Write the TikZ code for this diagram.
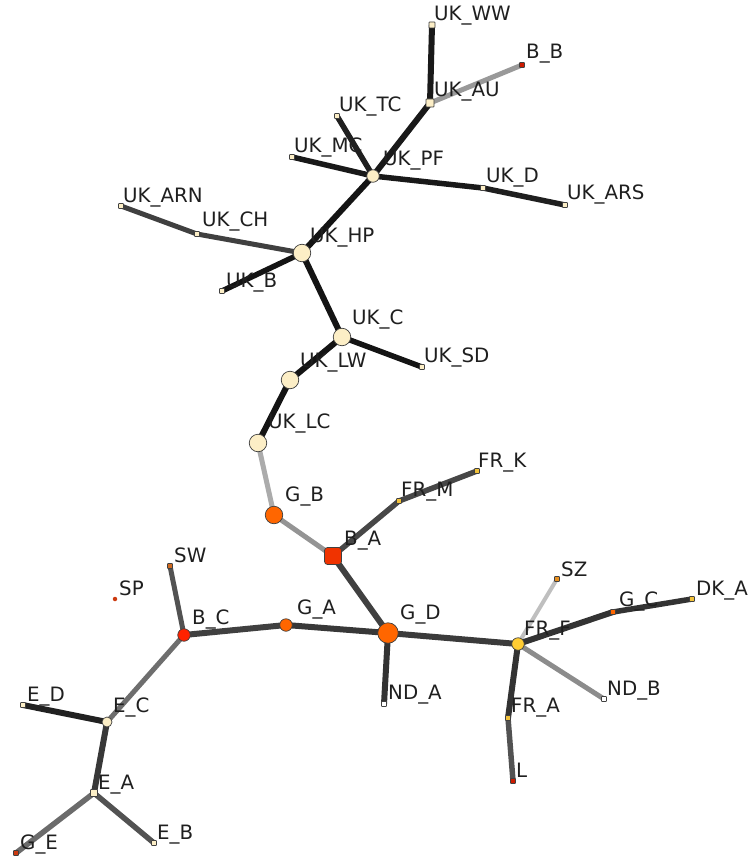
\documentclass[tikz,border=0pt]{standalone}
\usepackage{fontspec}
\setmainfont{DejaVu Sans}
\pgfdeclarelayer{edges}
\pgfsetlayers{edges,main}
\begin{document}
\begin{tikzpicture}[x=1pt,y=-1pt,
  nd/.style={draw=black!75,line width=0.7pt,inner sep=0pt,outer sep=0pt},
  sq/.style={nd,rectangle,rounded corners=0.6pt,minimum size=#1},
  rd/.style={nd,circle,minimum size=#1},
  lbl/.style={anchor=base west,inner sep=0pt,font=\fontsize{19.8}{21}\selectfont,text=black!88},
  ed/.style={line width=#1,line cap=butt},
  ed/.default=5.5pt]
\definecolor{cream}{HTML}{FCEEC6}
\definecolor{orng}{HTML}{FF6600}
\definecolor{redor}{HTML}{F03300}
\definecolor{redc}{HTML}{FF2200}
\definecolor{gold}{HTML}{FFCC33}
\definecolor{ylw}{HTML}{F2C23A}
\definecolor{ambr}{HTML}{E89020}
\definecolor{brn}{HTML}{D06A20}
\definecolor{rust}{HTML}{CC3A10}
\definecolor{dred}{HTML}{CC1A00}
\useasboundingbox (0,0) rectangle (747,856);

% ---- nodes ----
\node[sq=6pt,fill=cream] (ukww) at (432,25) {};
\node[sq=5pt,fill=dred] (bb) at (522,65) {};
\node[sq=8pt,fill=cream] (ukau) at (430,103) {};
\node[sq=5pt,fill=cream] (uktc) at (337,116) {};
\node[sq=5pt,fill=cream] (ukmc) at (292,157) {};
\node[rd=12.5pt,fill=cream] (ukpf) at (373,176) {};
\node[sq=5pt,fill=cream] (ukd) at (483,188) {};
\node[sq=5pt,fill=cream] (ukars) at (565,205) {};
\node[sq=5pt,fill=cream] (ukarn) at (121,206) {};
\node[sq=5pt,fill=cream] (ukch) at (197,234) {};
\node[rd=17.5pt,fill=cream] (ukhp) at (302,253) {};
\node[sq=5pt,fill=cream] (ukb) at (222,291) {};
\node[rd=17.5pt,fill=cream] (ukc) at (342,337) {};
\node[sq=5pt,fill=cream] (uksd) at (422,367) {};
\node[rd=17.5pt,fill=cream] (uklw) at (290,380) {};
\node[rd=17.5pt,fill=cream] (uklc) at (258,443) {};
\node[rd=17.5pt,fill=orng] (gb) at (274,515) {};
\node[sq=5pt,fill=ylw] (frm) at (399,501) {};
\node[sq=5pt,fill=ylw] (frk) at (477,471) {};
\node[sq=17pt,fill=redor,rounded corners=3pt] (ba) at (333,556) {};
\node[sq=5pt,fill=brn] (sw) at (170,566) {};
\node[rd=4.5pt,fill=rust,draw=none] (sp) at (115,599) {};
\node[rd=12.5pt,fill=redc] (bc) at (184,635) {};
\node[rd=12.5pt,fill=orng] (ga) at (286,625) {};
\node[rd=20.5pt,fill=orng] (gd) at (388,633) {};
\node[sq=5pt,fill=ambr] (sz) at (557,579) {};
\node[sq=5pt,fill=orng] (gc) at (613,612) {};
\node[sq=5pt,fill=ylw] (dka) at (692,599) {};
\node[rd=12.5pt,fill=gold] (frf) at (518,644) {};
\node[sq=5pt,fill=white] (nda) at (384,704) {};
\node[sq=5pt,fill=white] (ndb) at (604,699) {};
\node[sq=5pt,fill=ylw] (fra) at (508,718) {};
\node[sq=5pt,fill=dred] (l) at (513,781) {};
\node[sq=5pt,fill=cream] (ed) at (23,705) {};
\node[rd=10pt,fill=cream] (ec) at (107,722) {};
\node[sq=7pt,fill=cream] (ea) at (94,793) {};
\node[sq=5pt,fill=cream] (eb) at (154,843) {};
\node[sq=5pt,fill=rust] (ge) at (16,853) {};

% ---- labels ----
\node[lbl] (ukww-l) at (434,21) {UK\_WW};
\node[lbl] (bb-l) at (526,59) {B\_B};
\node[lbl] (ukau-l) at (434,97) {UK\_AU};
\node[lbl] (uktc-l) at (339,112) {UK\_TC};
\node[lbl] (ukmc-l) at (294,152) {UK\_MC};
\node[lbl] (ukpf-l) at (383,165) {UK\_PF};
\node[lbl] (ukd-l) at (486,182) {UK\_D};
\node[lbl] (ukars-l) at (567,199) {UK\_ARS};
\node[lbl] (ukarn-l) at (123,202) {UK\_ARN};
\node[lbl] (ukch-l) at (202,226) {UK\_CH};
\node[lbl] (ukhp-l) at (310,242) {UK\_HP};
\node[lbl] (ukb-l) at (226,287) {UK\_B};
\node[lbl] (ukc-l) at (352,324) {UK\_C};
\node[lbl] (uksd-l) at (424,362) {UK\_SD};
\node[lbl] (uklw-l) at (300,367) {UK\_LW};
\node[lbl] (uklc-l) at (268,428) {UK\_LC};
\node[lbl] (gb-l) at (285,501) {G\_B};
\node[lbl] (frm-l) at (401,496) {FR\_M};
\node[lbl] (frk-l) at (478,467) {FR\_K};
\node[lbl] (ba-l) at (344,545) {B\_A};
\node[lbl] (sw-l) at (174,562) {SW};
\node[lbl] (sp-l) at (119,595) {SP};
\node[lbl] (bc-l) at (192,624) {B\_C};
\node[lbl] (ga-l) at (297,614) {G\_A};
\node[lbl] (gd-l) at (400,619) {G\_D};
\node[lbl] (sz-l) at (561,576) {SZ};
\node[lbl] (gc-l) at (619,606) {G\_C};
\node[lbl] (dka-l) at (696,595) {DK\_A};
\node[lbl] (frf-l) at (524,635) {FR\_F};
\node[lbl] (nda-l) at (388,699) {ND\_A};
\node[lbl] (ndb-l) at (607,695) {ND\_B};
\node[lbl] (fra-l) at (511,712) {FR\_A};
\node[lbl] (l-l) at (516,777) {L};
\node[lbl] (ed-l) at (27,701) {E\_D};
\node[lbl] (ec-l) at (113,712) {E\_C};
\node[lbl] (ea-l) at (98,789) {E\_A};
\node[lbl] (eb-l) at (157,839) {E\_B};
\node[lbl] (ge-l) at (20,849) {G\_E};

% ---- connectors, kept underneath nodes and labels ----
\begin{pgfonlayer}{edges}
\path[draw=black!90,ed=6pt] (ukau.center) -- (ukww.center);
\path[draw=black!40,ed=5pt] (ukau.center) -- (bb.center);
\path[draw=black!90,ed=6pt] (ukpf.center) -- (ukau.center);
\path[draw=black!88,ed=5.5pt] (ukpf.center) -- (uktc.center);
\path[draw=black!90,ed=5.5pt] (ukpf.center) -- (ukmc.center);
\path[draw=black!90,ed=5.5pt] (ukpf.center) -- (ukd.center);
\path[draw=black!88,ed=5.5pt] (ukd.center) -- (ukars.center);
\path[draw=black!92,ed=6pt] (ukhp.center) -- (ukpf.center);
\path[draw=black!75,ed=5pt] (ukhp.center) -- (ukch.center);
\path[draw=black!75,ed=5pt] (ukch.center) -- (ukarn.center);
\path[draw=black!92,ed=5.5pt] (ukhp.center) -- (ukb.center);
\path[draw=black!92,ed=6pt] (ukhp.center) -- (ukc.center);
\path[draw=black!92,ed=5.5pt] (ukc.center) -- (uksd.center);
\path[draw=black!92,ed=6pt] (ukc.center) -- (uklw.center);
\path[draw=black!92,ed=6pt] (uklw.center) -- (uklc.center);
\path[draw=black!33,ed=5pt] (uklc.center) -- (gb.center);
\path[draw=black!42,ed=5pt] (gb.center) -- (ba.center);
\path[draw=black!72,ed=5.5pt] (ba.center) -- (frm.center);
\path[draw=black!72,ed=5.5pt] (frm.center) -- (frk.center);
\path[draw=black!75,ed=6pt] (ba.center) -- (gd.center);
\path[draw=black!78,ed=6pt] (gd.center) -- (ga.center);
\path[draw=black!75,ed=6pt] (ga.center) -- (bc.center);
\path[draw=black!80,ed=6pt] (gd.center) -- (nda.center);
\path[draw=black!77,ed=6pt] (gd.center) -- (frf.center);
\path[draw=black!25,ed=4pt] (frf.center) -- (sz.center);
\path[draw=black!80,ed=6pt] (frf.center) -- (gc.center);
\path[draw=black!80,ed=5.5pt] (gc.center) -- (dka.center);
\path[draw=black!45,ed=5pt] (frf.center) -- (ndb.center);
\path[draw=black!80,ed=6pt] (frf.center) -- (fra.center);
\path[draw=black!68,ed=5.5pt] (fra.center) -- (l.center);
\path[draw=black!68,ed=5pt] (bc.center) -- (sw.center);
\path[draw=black!57,ed=5pt] (bc.center) -- (ec.center);
\path[draw=black!87,ed=6pt] (ec.center) -- (ed.center);
\path[draw=black!78,ed=6pt] (ec.center) -- (ea.center);
\path[draw=black!68,ed=5.5pt] (ea.center) -- (eb.center);
\path[draw=black!58,ed=5.5pt] (ea.center) -- (ge.center);
\end{pgfonlayer}
\end{tikzpicture}
\end{document}
